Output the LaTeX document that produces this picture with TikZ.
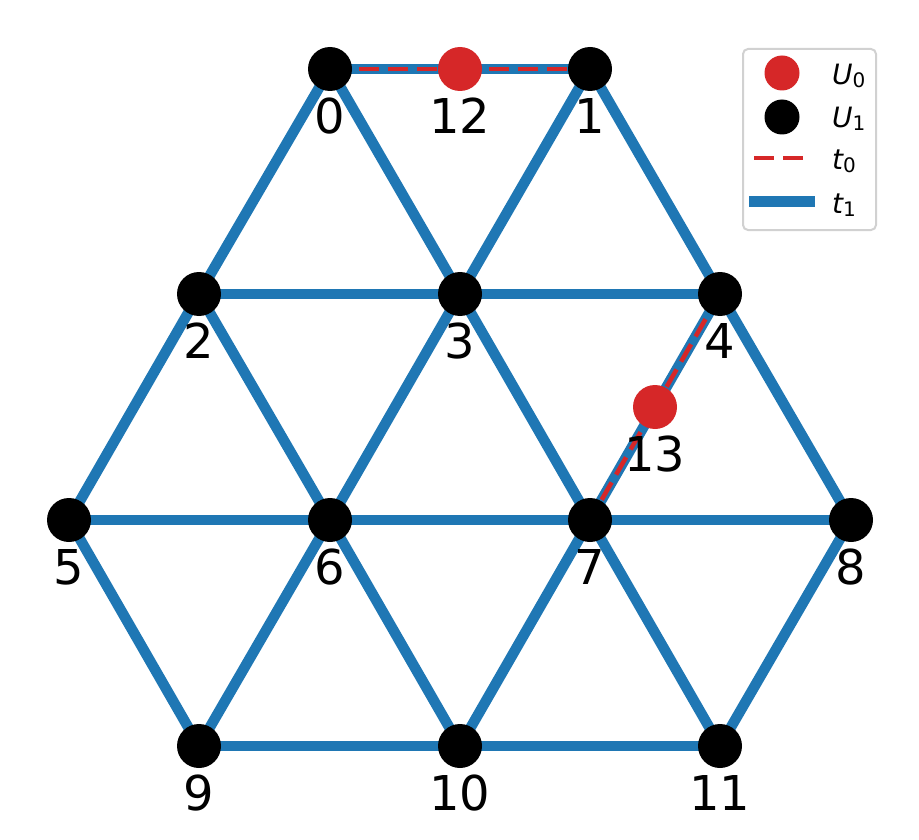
\documentclass[tikz,border=0pt]{standalone}
\usepackage{fontspec}
\setmainfont{DejaVu Sans}
\usetikzlibrary{backgrounds}
\definecolor{tblue}{HTML}{1F77B4}
\definecolor{tred}{HTML}{D62728}
\newcommand{\legtxt}[2]{{\fontsize{28}{28}\selectfont\itshape #1}\raisebox{-3pt}{\fontsize{20}{20}\selectfont #2}}
\begin{document}
\begin{tikzpicture}[x=1pt,y=-1pt,
  vtx/.style={circle,fill=black,minimum size=44pt,inner sep=0pt},
  rvtx/.style={circle,fill=tred,minimum size=44pt,inner sep=0pt},
  edge/.style={draw=tblue,line width=10.5pt},
  redge/.style={draw=tred,line width=4.5pt,dash pattern=on 20pt off 9pt},
  lbl/.style={font=\fontsize{48}{48}\selectfont,inner sep=0pt},
  legbox/.style={draw=black!18,line width=2pt,rounded corners=5pt,fill=white,minimum width=133pt,minimum height=181pt,inner sep=0pt},
  legtext/.style={anchor=west,inner sep=0pt}]
\useasboundingbox (0,0) rectangle (919,840);
% vertices
\node[vtx] (n0) at (330,69) {};
\node[rvtx] (n12) at (460,69) {};
\node[vtx] (n1) at (590,69) {};
\node[vtx] (n2) at (199,294) {};
\node[vtx] (n3) at (460,294) {};
\node[vtx] (n4) at (720,294) {};
\node[rvtx] (n13) at (655,407) {};
\node[vtx] (n5) at (69,520) {};
\node[vtx] (n6) at (330,520) {};
\node[vtx] (n7) at (590,520) {};
\node[vtx] (n8) at (851,520) {};
\node[vtx] (n9) at (199,746) {};
\node[vtx] (n10) at (460,746) {};
\node[vtx] (n11) at (720,746) {};
% edges
\begin{scope}[on background layer]
\foreach \a/\b in {0/1,0/2,0/3,1/3,1/4,2/3,3/4,2/5,2/6,3/6,3/7,4/7,4/8,5/6,6/7,7/8,5/9,6/9,6/10,7/10,7/11,8/11,9/10,10/11}
  \draw[edge] (n\a.center) -- (n\b.center);
\draw[redge] (n0.center) -- (n12.center);
\draw[redge] (n12.center) -- (n1.center);
\draw[redge] (n4.center) -- (n13.center);
\draw[redge] (n13.center) -- (n7.center);
\end{scope}
% labels
\foreach \i/\x/\y in {0/330/116,12/460/116,1/590/116,2/199/341,3/460/341,4/720/341,13/655/454,5/69/567,6/330/567,7/590/567,8/851/567,9/199/793,10/460/793,11/720/793}
  \node[lbl] (l\i) at (\x,\y) {\i};
% legend
\node[legbox] (leg) at (809.5,139.5) {};
\node[rvtx,minimum size=35pt] (lu0) at (782,73) {};
\node[vtx,minimum size=35pt] (lu1) at (782,117) {};
\coordinate (dt0a) at (754,158);
\coordinate (dt0b) at (804,158);
\draw[redge] (dt0a) -- (dt0b);
\coordinate (dt1a) at (749,202);
\coordinate (dt1b) at (815,202);
\draw[edge,line width=11pt] (dt1a) -- (dt1b);
\node[legtext] (tu0) at (832,76) {\legtxt{U}{0}};
\node[legtext] (tu1) at (832,119) {\legtxt{U}{1}};
\node[legtext] (tt0) at (832,161) {\legtxt{t}{0}};
\node[legtext] (tt1) at (832,205) {\legtxt{t}{1}};
\end{tikzpicture}
\end{document}
